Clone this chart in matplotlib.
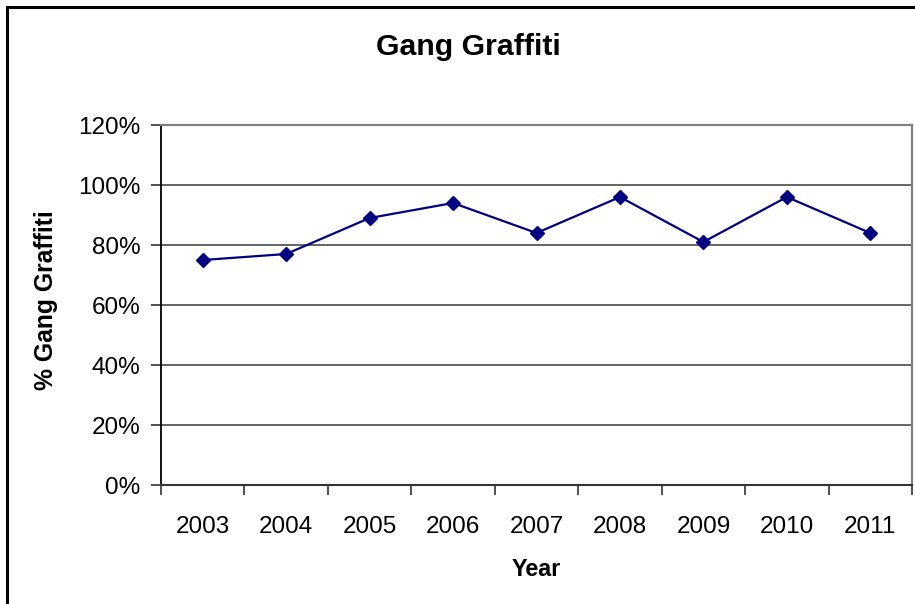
import matplotlib
matplotlib.use("Agg")
import matplotlib.pyplot as plt
from matplotlib.patches import Rectangle
import numpy as np

plt.rcParams['font.family'] = ['Liberation Sans', 'DejaVu Sans']

years = ['2003', '2004', '2005', '2006', '2007', '2008', '2009', '2010', '2011']
pct_gang = [75, 77, 89, 94, 84, 96, 81, 96, 84]
yticks = [0, 20, 40, 60, 80, 100, 120]

W, H = 915, 604
fig = plt.figure(figsize=(W / 100, H / 100), dpi=100)
ax = fig.add_axes([161 / W, 1 - 485 / H, (912 - 161) / W, (485 - 125) / H])

x = np.arange(len(years))
ax.plot(x, pct_gang, color='#000080', lw=1.6, marker='D', ms=7.2,
        mfc='#000080', mec='#000080', zorder=3)

ax.set_xlim(-0.5, len(years) - 0.5)
ax.set_ylim(0, 120)

# category labels centred, ticks on the boundaries between them
ax.set_xticks(x)
ax.set_xticklabels(years, fontsize=17.5)
ax.set_xticks(np.arange(len(years) + 1) - 0.5, minor=True)
ax.tick_params(axis='x', which='major', length=0, pad=22)
ax.tick_params(axis='x', which='minor', length=7, width=1.2, color='#333333', direction='out')

ax.set_yticks(yticks)
ax.set_yticklabels([f'{v}%' for v in yticks], fontsize=17.5)
ax.tick_params(axis='y', length=7, width=1.2, color='#333333', pad=8, direction='out')

for v in yticks[1:-1]:
    ax.axhline(v, color='#3a3a3a', lw=1.1, zorder=1)

ax.spines['left'].set_color('black')
ax.spines['left'].set_linewidth(1.3)
ax.spines['bottom'].set_color('#333333')
ax.spines['bottom'].set_linewidth(1.5)
ax.spines['top'].set_color('#808080')
ax.spines['top'].set_linewidth(1.6)
ax.spines['right'].set_color('#808080')
ax.spines['right'].set_linewidth(1.6)

fig.text(468 / W, 1 - 47 / H, 'Gang Graffiti', fontsize=21.8, fontweight='bold',
         ha='center', va='center')
fig.text(536 / W, 1 - 569 / H, 'Year', fontsize=16.8, fontweight='bold',
         ha='center', va='center')
fig.text(46 / W, 1 - 300 / H, '% Gang Graffiti', fontsize=17.8, fontweight='bold',
         ha='center', va='center', rotation=90)

# chart outline
fig.patches.append(Rectangle((7 / W, -0.1), 1.2, 1 - 7 / H + 0.1, transform=fig.transFigure,
                             fill=False, ec='black', lw=2.2, figure=fig))

fig.savefig('out.png', dpi=100)
